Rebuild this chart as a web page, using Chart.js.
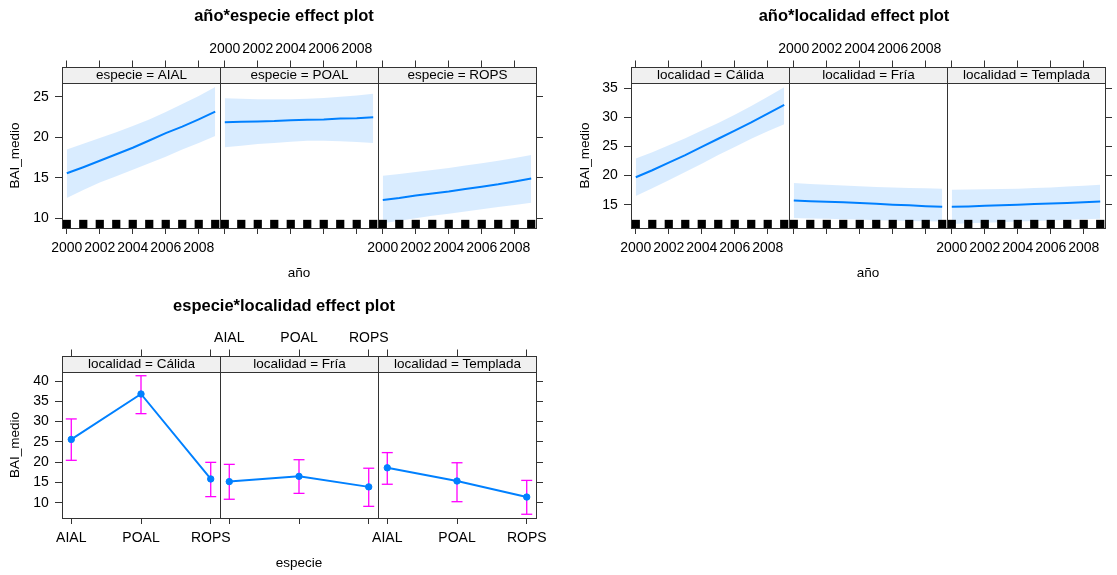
<!DOCTYPE html>
<html>
<head>
<meta charset="utf-8">
<title>effect plots</title>
<script src="https://cdn.jsdelivr.net/npm/chart.js@4.4.1/dist/chart.umd.min.js"></script>
<style>
  html, body { margin: 0; padding: 0; overflow: hidden; background: #fff; }
  body { width: 1117px; height: 575px; position: relative; }
  canvas { position: absolute; }
</style>
</head>
<body>
<canvas id="plotAE" width="568" height="290" style="left:0;top:0"></canvas>
<canvas id="plotAL" width="588" height="290" style="left:560px;top:0"></canvas>
<canvas id="plotEL" width="568" height="290" style="left:0;top:290px"></canvas>
<script>
// ---- data ----
const years = [2000, 2001, 2002, 2003, 2004, 2005, 2006, 2007, 2008, 2009];
const yearTicks = [2000, 2002, 2004, 2006, 2008];
const especies = ['AIAL', 'POAL', 'ROPS'];
const localidades = ['Cálida', 'Fría', 'Templada'];

// año*especie
const aeFitAIAL = [15.55, 16.3, 17.1, 17.9, 18.7, 19.6, 20.5, 21.3, 22.2, 23.15];
const aeLowAIAL = [12.5, 13.5, 14.4, 15.2, 16.0, 16.8, 17.6, 18.5, 19.3, 20.15];
const aeUppAIAL = [18.5, 19.2, 19.9, 20.6, 21.4, 22.2, 23.1, 24.1, 25.1, 26.2];
const aeFitPOAL = [21.85, 21.9, 21.95, 22.0, 22.1, 22.15, 22.2, 22.3, 22.35, 22.45];
const aeLowPOAL = [18.75, 18.95, 19.15, 19.3, 19.45, 19.55, 19.55, 19.5, 19.4, 19.3];
const aeUppPOAL = [24.8, 24.75, 24.7, 24.7, 24.7, 24.75, 24.85, 25.0, 25.15, 25.35];
const aeFitROPS = [12.25, 12.5, 12.8, 13.05, 13.3, 13.6, 13.9, 14.2, 14.55, 14.9];
const aeLowROPS = [9.4, 9.7, 10.0, 10.3, 10.55, 10.85, 11.1, 11.4, 11.65, 11.9];
const aeUppROPS = [15.25, 15.45, 15.7, 15.95, 16.2, 16.5, 16.8, 17.1, 17.45, 17.8];
const aeYTicks = [10, 15, 20, 25];

// año*localidad
const alFitCalida = [19.7, 20.9, 22.2, 23.5, 24.9, 26.3, 27.7, 29.1, 30.6, 32.1];
const alLowCalida = [16.5, 17.8, 19.2, 20.6, 22.0, 23.5, 24.9, 26.3, 27.6, 28.8];
const alUppCalida = [22.9, 24.0, 25.2, 26.4, 27.7, 29.0, 30.4, 31.9, 33.5, 35.15];
const alFitFria = [15.7, 15.6, 15.5, 15.4, 15.3, 15.15, 15.0, 14.9, 14.75, 14.65];
const alLowFria = [12.7, 12.65, 12.6, 12.5, 12.45, 12.35, 12.3, 12.2, 12.15, 12.1];
const alUppFria = [18.7, 18.55, 18.4, 18.3, 18.15, 18.05, 17.95, 17.85, 17.8, 17.75];
const alFitTemplada = [14.65, 14.7, 14.8, 14.9, 15.0, 15.1, 15.2, 15.3, 15.4, 15.55];
const alLowTemplada = [11.7, 11.8, 11.9, 12.0, 12.1, 12.2, 12.3, 12.4, 12.5, 12.6];
const alUppTemplada = [17.55, 17.6, 17.65, 17.7, 17.75, 17.85, 17.95, 18.1, 18.25, 18.4];
const alYTicks = [15, 20, 25, 30, 35];

// especie*localidad (AIAL, POAL, ROPS)
const elFitCalida = [25.6, 36.8, 15.85];
const elLowCalida = [20.45, 31.95, 11.5];
const elUppCalida = [30.65, 41.3, 19.95];
const elFitFria = [15.2, 16.5, 13.9];
const elLowFria = [10.85, 12.3, 9.1];
const elUppFria = [19.45, 20.6, 18.5];
const elFitTemplada = [18.6, 15.35, 11.4];
const elLowTemplada = [14.55, 10.25, 7.15];
const elUppTemplada = [22.35, 19.85, 15.5];
const elYTicks = [10, 15, 20, 25, 30, 35, 40];

// ---- look ----
const BLUE = '#0080ff';
const BAND = 'rgba(0, 128, 255, 0.15)';
const MAGENTA = '#ff00ff';
const INK = '#000';
const FRAME = '#333';
const STRIP_BG = '#f0f0f0';
const STRIP_H = 16.5;
const TXT = 13.5;
const TICK_TXT = 14;

Chart.defaults.font.family = '"Liberation Sans", Arial, Helvetica, sans-serif';
Chart.defaults.font.size = TXT;
Chart.defaults.color = INK;

// strips and panel frames, lattice style
const latticeFrame = {
  id: 'latticeFrame',
  afterDraw(chart, args, opts) {
    const { ctx, chartArea } = chart;
    const top = chartArea.top - STRIP_H;
    ctx.save();
    opts.labels.forEach((label, i) => {
      const s = chart.scales['x' + i];
      const l = Math.round(s.left) + 0.5;
      const r = Math.round(s.right) + 0.5;
      const b = Math.round(chartArea.bottom) + 0.5;
      const t = Math.round(top) + 0.5;
      const m = Math.round(chartArea.top) + 0.5;
      ctx.fillStyle = STRIP_BG;
      ctx.fillRect(l, t, r - l, m - t);
      ctx.strokeStyle = FRAME;
      ctx.lineWidth = 1;
      ctx.strokeRect(l, t, r - l, b - t);
      ctx.beginPath();
      ctx.moveTo(l, m);
      ctx.lineTo(r, m);
      ctx.stroke();
      ctx.fillStyle = INK;
      ctx.font = TXT + 'px ' + Chart.defaults.font.family;
      ctx.textAlign = 'center';
      ctx.textBaseline = 'middle';
      ctx.fillText(label, (l + r) / 2, (t + m) / 2);
    });
    ctx.restore();
  }
};

function xScale(cfg, position, showLabels, title) {
  const isTop = position === 'top';
  return {
    type: 'linear', axis: 'x', position, stack: position, stackWeight: 1,
    min: cfg.xMin, max: cfg.xMax, bounds: 'data',
    afterBuildTicks: (s) => { s.ticks = cfg.xTicks.map((v) => ({ value: v })); },
    afterFit: (s) => { s.height = isTop ? cfg.topH : cfg.bottomH; },
    grid: { display: true, drawOnChartArea: false, drawTicks: true,
            tickLength: isTop ? STRIP_H + 6 : 6, color: FRAME, lineWidth: 1 },
    border: { display: false },
    ticks: { display: showLabels, autoSkip: false, maxRotation: 0, minRotation: 0,
             padding: isTop ? 2.8 : 5.9, callback: cfg.xFormat, color: INK,
             font: { size: TICK_TXT } },
    title: { display: !!title, text: title || '', color: INK, font: { size: TXT },
             padding: { top: 0, bottom: 8.6 } }
  };
}

function yScale(cfg, position) {
  const isLeft = position === 'left';
  return {
    type: 'linear', axis: 'y', position, min: cfg.yMin, max: cfg.yMax, bounds: 'data',
    afterBuildTicks: (s) => { s.ticks = cfg.yTicks.map((v) => ({ value: v })); },
    afterFit: (s) => { s.width = isLeft ? cfg.leftW : cfg.rightW; },
    grid: { display: true, drawOnChartArea: false, drawTicks: true, tickLength: 7,
            color: FRAME, lineWidth: 1 },
    border: { display: false },
    ticks: { display: isLeft, padding: 6.3, callback: (v) => String(v), color: INK,
             font: { size: TICK_TXT } },
    title: { display: isLeft, text: 'BAI_medio', color: INK, font: { size: TXT },
             padding: { top: cfg.yTitlePad, bottom: 0 } }
  };
}

function buildScales(cfg) {
  const scales = {};
  for (let i = 0; i < 3; i++) scales['x' + i] = xScale(cfg, 'bottom', i !== 1, i === 1 ? cfg.xTitle : null);
  for (let i = 0; i < 3; i++) scales['xt' + i] = xScale(cfg, 'top', i === 1, null);
  scales.y = yScale(cfg, 'left');
  scales.yr = yScale(cfg, 'right');
  return scales;
}

function bandDatasets(cfg, fits, lows, upps) {
  const rugY = cfg.yMin + 0.028 * (cfg.yMax - cfg.yMin);
  const rug = [], lines = [], bands = [];
  fits.forEach((fit, i) => {
    const xAxisID = 'x' + i;
    rug.push({
      data: years.map((x) => ({ x, y: rugY })), xAxisID, yAxisID: 'y',
      showLine: false, pointStyle: 'rect', pointRadius: 5.8, pointHoverRadius: 5.8,
      pointBackgroundColor: '#000', pointBorderWidth: 0
    });
    lines.push({
      data: years.map((x, k) => ({ x, y: fit[k] })), xAxisID, yAxisID: 'y',
      borderColor: BLUE, borderWidth: 2, pointRadius: 0, tension: 0, fill: false
    });
    bands.push({
      data: years.map((x, k) => ({ x, y: lows[i][k] })), xAxisID, yAxisID: 'y',
      borderColor: 'rgba(0,0,0,0)', borderWidth: 0, pointRadius: 0, fill: false
    });
    bands.push({
      data: years.map((x, k) => ({ x, y: upps[i][k] })), xAxisID, yAxisID: 'y',
      borderColor: 'rgba(0,0,0,0)', borderWidth: 0, pointRadius: 0,
      fill: '-1', backgroundColor: BAND
    });
  });
  return [...rug, ...lines, ...bands];
}

function errorDatasets(fits, lows, upps) {
  const lines = [], bars = [];
  fits.forEach((fit, i) => {
    const xAxisID = 'x' + i;
    lines.push({
      data: especies.map((e, k) => ({ x: k + 1, y: fit[k] })), xAxisID, yAxisID: 'y',
      borderColor: BLUE, borderWidth: 2, tension: 0, fill: false,
      pointRadius: 3.2, pointBackgroundColor: BLUE, pointBorderColor: BLUE, pointBorderWidth: 1
    });
    bars.push({
      data: especies.flatMap((e, k) => [
        { x: k + 1, y: lows[i][k] }, { x: k + 1, y: upps[i][k] }, { x: k + 1, y: null }
      ]),
      xAxisID, yAxisID: 'y', spanGaps: false,
      borderColor: MAGENTA, borderWidth: 1.3, fill: false,
      pointStyle: 'line', pointRadius: 5.5, pointBorderColor: MAGENTA, pointBorderWidth: 1.3
    });
  });
  return [...lines, ...bars];
}

function makeChart(id, title, strips, cfg, datasets) {
  return new Chart(document.getElementById(id), {
    type: 'line',
    data: { datasets },
    options: {
      responsive: false,
      animation: false,
      events: [],
      layout: { padding: 0 },
      scales: buildScales(cfg),
      plugins: {
        legend: { display: false },
        tooltip: { enabled: false },
        title: {
          display: true, text: title, color: INK,
          font: { size: 16.5, weight: 'bold' },
          padding: { top: 6.8, bottom: 0 }
        },
        latticeFrame: { labels: strips }
      }
    },
    plugins: [latticeFrame]
  });
}

const yearCfg = {
  xMin: 1999.71, xMax: 2009.29, xTicks: yearTicks, xFormat: (v) => String(v), xTitle: 'año'
};

const aeCfg = Object.assign({}, yearCfg, {
  yMin: 8.8, yMax: 26.69, yTicks: aeYTicks,
  leftW: 62, rightW: 32, topH: 56.4, bottomH: 62, yTitlePad: 6.9
});
makeChart('plotAE', 'año*especie effect plot',
  especies.map((e) => 'especie = ' + e), aeCfg,
  bandDatasets(aeCfg,
    [aeFitAIAL, aeFitPOAL, aeFitROPS],
    [aeLowAIAL, aeLowPOAL, aeLowROPS],
    [aeUppAIAL, aeUppPOAL, aeUppROPS]));

const alCfg = Object.assign({}, yearCfg, {
  yMin: 11.0, yMax: 35.86, yTicks: alYTicks,
  leftW: 71, rightW: 43, topH: 56.4, bottomH: 62, yTitlePad: 16.9
});
makeChart('plotAL', 'año*localidad effect plot',
  localidades.map((l) => 'localidad = ' + l), alCfg,
  bandDatasets(alCfg,
    [alFitCalida, alFitFria, alFitTemplada],
    [alLowCalida, alLowFria, alLowTemplada],
    [alUppCalida, alUppFria, alUppTemplada]));

const elCfg = {
  xMin: 0.867, xMax: 3.133, xTicks: [1, 2, 3], xFormat: (v) => especies[v - 1], xTitle: 'especie',
  yMin: 6.23, yMax: 42.22, yTicks: elYTicks,
  leftW: 62, rightW: 32, topH: 55.4, bottomH: 62, yTitlePad: 6.9
};
makeChart('plotEL', 'especie*localidad effect plot',
  localidades.map((l) => 'localidad = ' + l), elCfg,
  errorDatasets(
    [elFitCalida, elFitFria, elFitTemplada],
    [elLowCalida, elLowFria, elLowTemplada],
    [elUppCalida, elUppFria, elUppTemplada]));
</script>
</body>
</html>
